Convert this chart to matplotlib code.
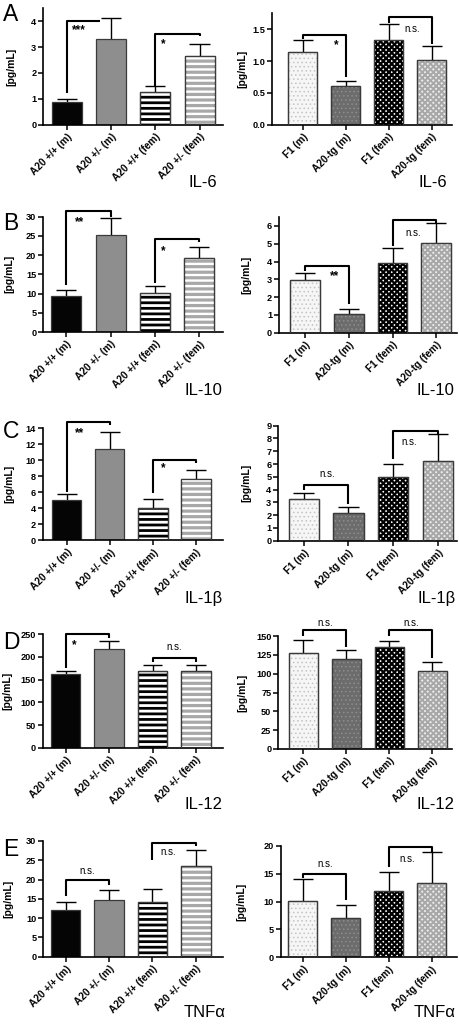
import matplotlib
matplotlib.use("Agg")
import matplotlib.pyplot as plt
import numpy as np

plt.rcParams['font.family'] = ['Liberation Sans', 'DejaVu Sans']

# ---------------- data ----------------
groups_left = ["A20 +/+ (m)", "A20 +/- (m)", "A20 +/+ (fem)", "A20 +/- (fem)"]
groups_right = ["F1 (m)", "A20-tg (m)", "F1 (fem)", "A20-tg (fem)"]
cytokines = ["IL-6", "IL-10", "IL-1β", "IL-12", "TNFα"]
panel_letters = ["A", "B", "C", "D", "E"]

il6_left_mean = [0.89, 3.31, 1.26, 2.65]
il6_left_sem = [0.10, 0.82, 0.23, 0.48]
il6_right_mean = [1.14, 0.61, 1.33, 1.01]
il6_right_sem = [0.19, 0.07, 0.25, 0.22]

il10_left_mean = [9.4, 25.3, 10.1, 19.3]
il10_left_sem = [1.4, 4.4, 1.9, 2.7]
il10_right_mean = [2.98, 1.07, 3.92, 5.06]
il10_right_sem = [0.40, 0.28, 0.86, 1.13]

il1b_left_mean = [5.04, 11.4, 4.08, 7.63]
il1b_left_sem = [0.75, 2.1, 1.05, 1.12]
il1b_right_mean = [3.23, 2.14, 4.96, 6.26]
il1b_right_sem = [0.47, 0.49, 1.07, 2.06]

il12_left_mean = [162, 217, 170, 169]
il12_left_sem = [7, 18, 12, 13]
il12_right_mean = [127, 120, 135, 104]
il12_right_sem = [18, 11, 9, 11]

tnf_left_mean = [12.0, 14.6, 14.2, 23.4]
tnf_left_sem = [2.1, 2.8, 3.3, 4.3]
tnf_right_mean = [10.1, 7.0, 11.9, 13.4]
tnf_right_sem = [3.9, 2.4, 3.3, 5.4]

# significance brackets: (x1, x2, y_bar, y_leg1_end, y_leg2_end, label, label_x, label_y)
sig_il6_left = [(0, 0.75, 4.01, 1.23, 4.01, "***", 0.28, 3.65), (2, 3, 3.52, 1.44, 3.42, "*", 2.18, 3.1)]
sig_il6_right = [(0, 1, 1.41, 1.34, 0.745, "*", 0.77, 1.25), (2, 3, 1.69, 1.60, 1.27, "n.s.", 2.55, 1.5)]
sig_il10_left = [(0, 1, 31.6, 12.1, 30.0, "**", 0.3, 28.6), (2, 3, 24.3, 12.8, 23.3, "*", 2.18, 21.0)]
sig_il10_right = [(0, 1, 3.75, 3.49, 1.63, "**", 0.69, 3.2), (2, 3, 6.34, 4.89, 6.19, "n.s.", 2.48, 5.63)]
sig_il1b_left = [(0, 1, 14.75, 6.08, 14.4, "**", 0.29, 13.4), (2, 3, 10.1, 5.9, 9.7, "*", 2.25, 9.0)]
sig_il1b_right = [(0, 1, 4.36, 3.97, 2.9, "n.s.", 0.53, 5.19), (2, 3, 8.56, 6.37, 8.32, "n.s.", 2.36, 7.75)]
sig_il12_left = [(0, 1, 250, 175, 241, "*", 0.19, 225), (2, 3, 197, 190, 190, "n.s.", 2.49, 221)]
sig_il12_right = [(0, 1, 158, 150.4, 135.8, "n.s.", 0.5, 167), (2, 3, 158, 150, 120.4, "n.s.", 2.5, 167)]
sig_tnf_left = [(0, 1, 19.8, 15.8, 18.7, "n.s.", 0.5, 22.3), (2, 3, 29.6, 25.1, 28.7, "n.s.", 2.37, 27.1)]
sig_tnf_right = [(0, 1, 14.9, 14.3, 10.3, "n.s.", 0.53, 16.7), (2, 3, 19.7, 16.1, 18.8, "n.s.", 2.42, 17.6)]

yticks_left = [np.arange(0, 5, 1), np.arange(0, 31, 5), np.arange(0, 15, 2), np.arange(0, 251, 50), np.arange(0, 31, 5)]
yticks_right = [np.arange(0, 1.51, 0.5), np.arange(0, 7, 1), np.arange(0, 10, 1), np.arange(0, 151, 25), np.arange(0, 21, 5)]
ytop_left = [4.5, 30, 14, 250, 30]
ytop_right = [1.75, 6.5, 9, 150, 20]

means_left = [il6_left_mean, il10_left_mean, il1b_left_mean, il12_left_mean, tnf_left_mean]
sems_left = [il6_left_sem, il10_left_sem, il1b_left_sem, il12_left_sem, tnf_left_sem]
means_right = [il6_right_mean, il10_right_mean, il1b_right_mean, il12_right_mean, tnf_right_mean]
sems_right = [il6_right_sem, il10_right_sem, il1b_right_sem, il12_right_sem, tnf_right_sem]
sig_left = [sig_il6_left, sig_il10_left, sig_il1b_left, sig_il12_left, sig_tnf_left]
sig_right = [sig_il6_right, sig_il10_right, sig_il1b_right, sig_il12_right, sig_tnf_right]

# ---------------- layout (pixels) ----------------
W, H = 459, 1027
DPI = 100
# (yaxis_px, first_bar_center_px, bar_spacing_px, xaxis_end_px, y0_px, ytop_px, ylabel_x_px)
layout_left = [(43.3, 66.7, 44.3, 222.7, 124.7, 8.2, 11),
               (43.3, 66.3, 44.3, 222.7, 332.0, 216.7, 9),
               (42.7, 66.7, 43.1, 222.7, 540.3, 428.3, 9),
               (42.7, 65.7, 43.4, 222.7, 747.7, 634.3, 7.5),
               (43.3, 65.7, 43.4, 222.7, 956.7, 841.0, 8.5)]
layout_right = [(272.3, 302.7, 43.0, 451.7, 124.7, 13.4, 242),
                (279.0, 304.7, 43.9, 457.0, 332.7, 217.1, 246),
                (278.3, 303.7, 44.7, 457.0, 540.7, 425.7, 246),
                (278.3, 303.3, 43.0, 452.0, 749.0, 636.0, 242),
                (280.7, 302.7, 43.0, 457.0, 957.3, 845.7, 241)]
cyto_pos_left = [(217, 187), (222, 395), (223, 603), (222, 809), (225, 1017)]
cyto_pos_right = [(447, 187), (454, 395), (456, 603), (454, 809), (456, 1017)]
letter_pos = [(3, 21), (3, 230), (3, 438), (3, 649), (3, 856)]

style_left = [dict(face="#050505", hatch=None),
              dict(face="#8e8e8e", hatch=None),
              dict(face="white", hatch="---", hcolor="black", hlw=2.0),
              dict(face="#a8a8a8", hatch="---", hcolor="white", hlw=1.7)]
style_right = [dict(face="#f6f6f6", hatch="....", hcolor="#c4c4c4", hlw=0.6),
               dict(face="#6c6c6c", hatch="....", hcolor="#8e8e8e", hlw=0.6),
               dict(face="white", hatch="xxxxxx", hcolor="black", hlw=1.6),
               dict(face="#ececec", hatch="xxxxxx", hcolor="#a8a8a8", hlw=1.4)]

fig = plt.figure(figsize=(W / DPI, H / DPI), dpi=DPI)


def px_axes(lay):
    yax, c0, sp, xend, y0, ytop, _ = lay
    ax = fig.add_axes([yax / W, 1 - y0 / H, (xend - yax) / W, (y0 - ytop) / H])
    ax.set_xlim((yax - c0) / sp, (xend - c0) / sp)
    return ax


def draw_panel(lay, means, sems, labels, styles, yticks, ytop, sigs, right):
    ax = px_axes(lay)
    x = np.arange(len(means))
    width = 0.68
    edge = "#3a3a3a"
    for i in range(len(means)):
        st = styles[i]
        ax.bar(x[i], means[i], width=width, color=st["face"], edgecolor=edge, linewidth=0.9, zorder=2)
        if st["hatch"]:
            plt.rcParams['hatch.linewidth'] = st["hlw"]
            bars = ax.bar(x[i], means[i], width=width, color="none", edgecolor=st["hcolor"],
                          linewidth=0, hatch=st["hatch"], zorder=2.5)
            for p in bars:
                if hasattr(p, "set_hatch_linewidth"):
                    p.set_hatch_linewidth(st["hlw"])
            ax.bar(x[i], means[i], width=width, fill=False, edgecolor=edge, linewidth=0.9, zorder=3)
    m = np.array(means, dtype=float)
    s = np.array(sems, dtype=float)
    ax.vlines(x, m, m + s, color="black", linewidth=1.0, zorder=1.5)
    ax.hlines(m + s, x - 0.23, x + 0.23, color="black", linewidth=1.0, zorder=1.5)

    for (x1, x2, yb, y1, y2, lab, lx, ly) in sigs:
        ax.plot([x1, x1, x2, x2], [y1, yb, yb, y2], color="black", linewidth=1.5,
                solid_capstyle="butt", clip_on=False, zorder=4)
        if lab == "n.s.":
            ax.text(lx, ly, lab, ha="center", va="center", fontsize=7, zorder=5)
        else:
            ax.text(lx, ly, lab, ha="center", va="center", fontsize=8.5, fontweight="bold", zorder=5)

    ax.set_ylim(0, ytop)
    ax.set_yticks(yticks)
    if right and ytop < 2:
        ax.set_yticklabels([f"{v:.1f}" for v in yticks])
    ax.set_xticks(x)
    ax.set_xticklabels(labels, rotation=45, ha="right", rotation_mode="anchor",
                       fontsize=7.2, fontweight="bold")
    for t in ax.get_yticklabels():
        t.set_fontweight("bold")
        t.set_fontsize(6.6)
    ax.tick_params(axis="both", direction="out", length=3.5, width=1.1, pad=1.5)
    ax.spines["top"].set_visible(False)
    ax.spines["right"].set_visible(False)
    ax.spines["left"].set_linewidth(1.2)
    ax.spines["bottom"].set_linewidth(1.2)
    ax.set_ylabel("[pg/mL]", fontsize=7.5, fontweight="bold")
    ax.yaxis.label.set_verticalalignment("center")
    yax, xend = lay[0], lay[3]
    ax.yaxis.set_label_coords((lay[6] - yax) / (xend - yax), 0.5)
    ax.set_facecolor("none")
    return ax


for r in range(5):
    draw_panel(layout_left[r], means_left[r], sems_left[r], groups_left, style_left,
               yticks_left[r], ytop_left[r], sig_left[r], False)
    draw_panel(layout_right[r], means_right[r], sems_right[r], groups_right, style_right,
               yticks_right[r], ytop_right[r], sig_right[r], True)
    fig.text(cyto_pos_left[r][0] / W, 1 - cyto_pos_left[r][1] / H, cytokines[r],
             ha="right", va="baseline", fontsize=12)
    fig.text(cyto_pos_right[r][0] / W, 1 - cyto_pos_right[r][1] / H, cytokines[r],
             ha="right", va="baseline", fontsize=12)
    fig.text(letter_pos[r][0] / W, 1 - letter_pos[r][1] / H, panel_letters[r],
             ha="left", va="baseline", fontsize=16.5)

fig.savefig("out.png", dpi=DPI)
